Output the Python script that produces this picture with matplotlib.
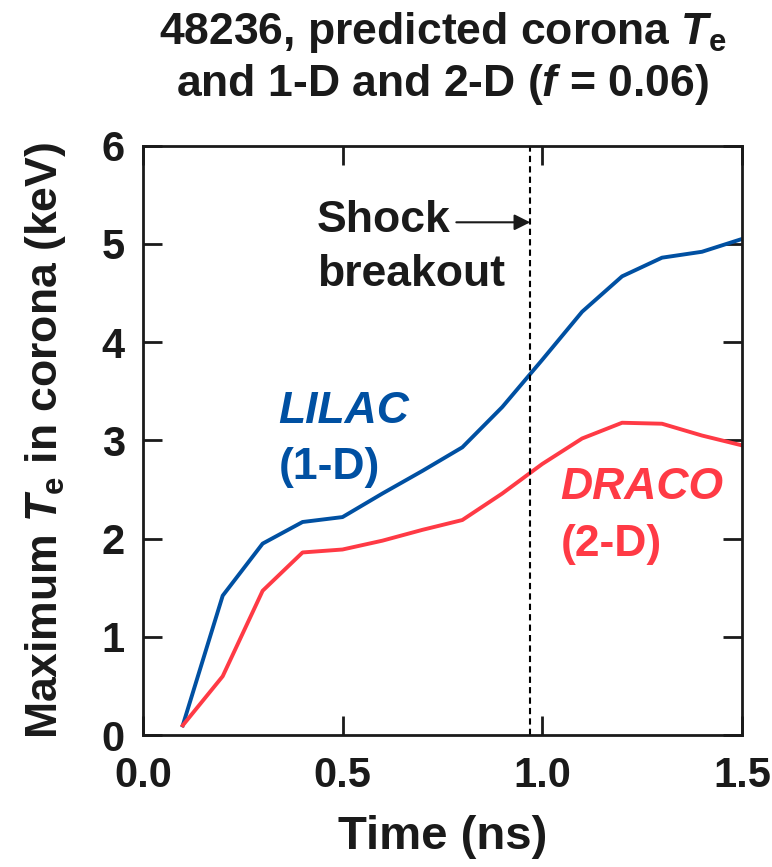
import matplotlib
matplotlib.use("Agg")
import matplotlib.pyplot as plt

# data
time_ns = [0.1, 0.2, 0.3, 0.4, 0.5, 0.6, 0.7, 0.8, 0.9, 1.0, 1.1, 1.2, 1.3, 1.4, 1.5]
lilac_te = [0.10, 1.42, 1.95, 2.17, 2.22, 2.46, 2.69, 2.93, 3.34, 3.82, 4.31, 4.67, 4.86, 4.92, 5.05]
draco_te = [0.10, 0.60, 1.47, 1.86, 1.89, 1.98, 2.09, 2.19, 2.46, 2.76, 3.02, 3.18, 3.17, 3.05, 2.95]
shock_t = 0.97
xticks = [0.0, 0.5, 1.0, 1.5]
yticks = [0, 1, 2, 3, 4, 5, 6]

blue = "#0050a2"
red = "#ff3a45"
ink = "#1a1a1a"

plt.rcParams['font.family'] = ['Liberation Sans', 'DejaVu Sans']
plt.rcParams['font.weight'] = 'bold'
plt.rcParams['axes.labelweight'] = 'bold'
plt.rcParams['axes.titleweight'] = 'bold'
plt.rcParams['mathtext.fontset'] = 'custom'
plt.rcParams['mathtext.rm'] = 'Liberation Sans:bold'
plt.rcParams['mathtext.it'] = 'Liberation Sans:italic:bold'
plt.rcParams['mathtext.bf'] = 'Liberation Sans:bold'

fig = plt.figure(figsize=(7.72, 8.67), dpi=100)
ax = fig.add_axes([0.185, 0.152, 0.776, 0.680])

ax.plot(time_ns, lilac_te, color=blue, lw=2.8)
ax.plot(time_ns, draco_te, color=red, lw=2.8)
ax.axvline(shock_t, color="black", lw=1.5, ls=(0, (3, 2)))

ax.set_xlim(0, 1.5)
ax.set_ylim(0, 6)
ax.set_xticks(xticks)
ax.set_xticklabels(["%.1f" % v for v in xticks])
ax.set_yticks(yticks)
ax.tick_params(direction="in", length=14, width=2, labelsize=30,
               top=True, right=True, colors=ink)
ax.tick_params(axis="x", pad=15)
ax.tick_params(axis="y", pad=13)
for s in ax.spines.values():
    s.set_linewidth(2)
    s.set_color(ink)

ax.set_xlabel("Time (ns)", fontsize=34, labelpad=14, color=ink)
ax.set_ylabel(r"Maximum $T_\mathrm{e}$ in corona (keV)", fontsize=32, labelpad=24, color=ink)
ax.set_title("48236, predicted corona $T_\\mathrm{e}$\nand 1-D and 2-D ($f$ = 0.06)",
             fontsize=32, pad=36, linespacing=1.2, color=ink)

ax.text(0.34, 3.29, "LILAC", color=blue, fontsize=32, style="italic", va="center")
ax.text(0.34, 2.72, "(1-D)", color=blue, fontsize=32, va="center")
ax.text(1.046, 2.52, "DRACO", color=red, fontsize=32, style="italic", va="center")
ax.text(1.046, 1.94, "(2-D)", color=red, fontsize=32, va="center")
ax.text(0.436, 5.24, "Shock", color=ink, fontsize=32, va="center")
ax.text(0.436, 4.69, "breakout", color=ink, fontsize=32, va="center")
ax.annotate("", xy=(shock_t, 5.22), xytext=(0.785, 5.22),
            arrowprops=dict(arrowstyle="-|>", color=ink, lw=1.5,
                            mutation_scale=24, shrinkA=0, shrinkB=0))

fig.savefig("out.png", dpi=100)
